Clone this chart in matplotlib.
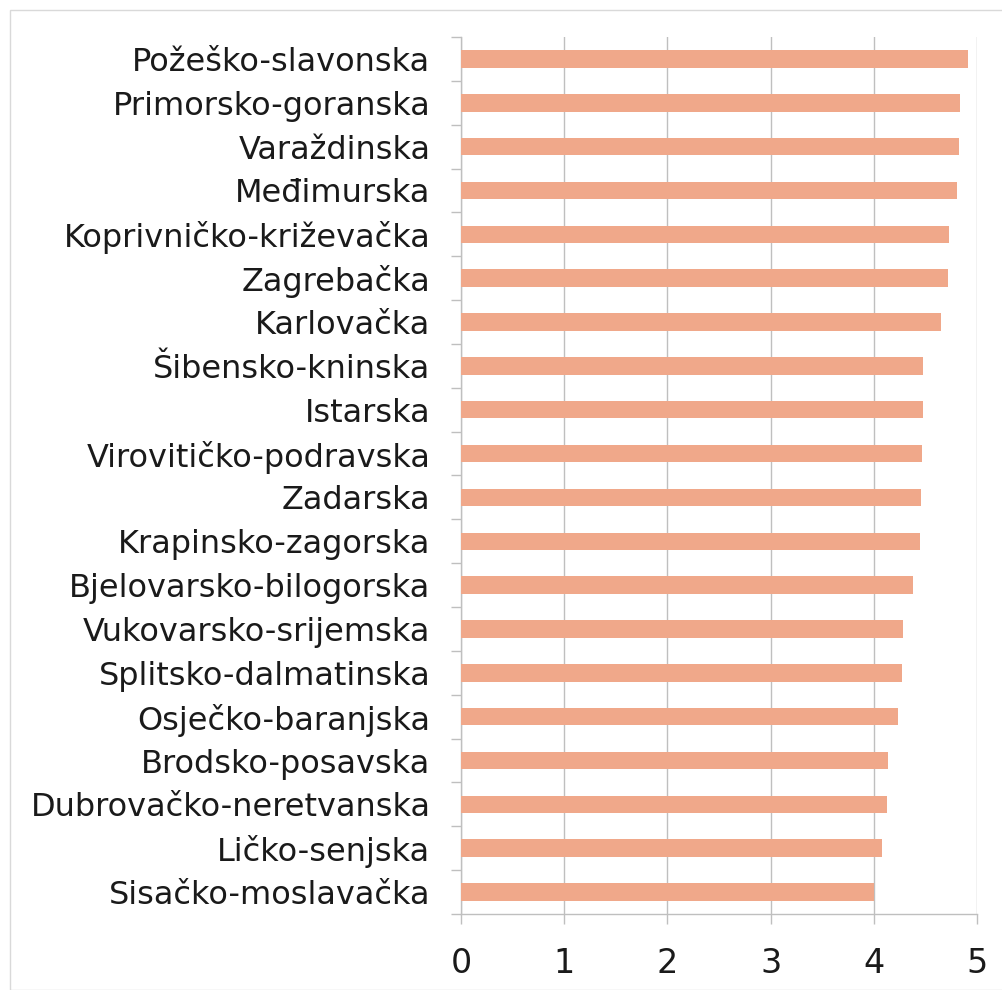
import numpy as np
import matplotlib
matplotlib.use('Agg')
from matplotlib import pyplot as plt
from matplotlib.patches import Rectangle

# counties, bottom to top as drawn
counties = ['Sisačko-moslavačka', 'Ličko-senjska', 'Dubrovačko-neretvanska',
            'Brodsko-posavska', 'Osječko-baranjska', 'Splitsko-dalmatinska',
            'Vukovarsko-srijemska', 'Bjelovarsko-bilogorska', 'Krapinsko-zagorska',
            'Zadarska', 'Virovitičko-podravska', 'Istarska', 'Šibensko-kninska',
            'Karlovačka', 'Zagrebačka', 'Koprivničko-križevačka', 'Međimurska',
            'Varaždinska', 'Primorsko-goranska', 'Požeško-slavonska']
values = [4.00, 4.08, 4.13, 4.14, 4.23, 4.27, 4.28, 4.38, 4.45, 4.46,
          4.47, 4.48, 4.48, 4.65, 4.72, 4.73, 4.81, 4.83, 4.84, 4.91]
xticks = [0, 1, 2, 3, 4, 5]

plt.rcParams['font.family'] = ['DejaVu Sans']
grey = '#bfbfbf'
txt = '#1a1a1a'

fig = plt.figure(figsize=(10.03, 9.9), dpi=100)
ax = fig.add_axes([461/1003, 1-914/990, (977-461)/1003, (914-37)/990])

y = np.arange(len(counties))
ax.barh(y, values, height=0.4, color='#f0a88a', zorder=3)

ax.set_xlim(0, 5)
ax.set_ylim(-0.5, len(counties)-0.5)
ax.set_xticks(xticks)
ax.set_xticklabels([str(t) for t in xticks], fontsize=24, color=txt)
ax.set_yticks(y)
ax.set_yticklabels(counties, fontsize=23, color=txt)
ax.set_yticks(np.arange(-0.5, len(counties), 1), minor=True)
ax.tick_params(axis='y', which='major', length=0, pad=22)
ax.tick_params(axis='y', which='minor', length=7, color=grey, width=1)
ax.tick_params(axis='x', which='major', length=7, color=grey, width=1, pad=17)
ax.xaxis.grid(True, color=grey, linewidth=1, zorder=0)

for s in ['top', 'right']:
    ax.spines[s].set_visible(False)
for s in ['left', 'bottom']:
    ax.spines[s].set_color(grey)
    ax.spines[s].set_linewidth(1)

fig.patches.append(Rectangle((10/1003, 0), 1, 1-10/990, transform=fig.transFigure,
                             fill=False, edgecolor='#d9d9d9', linewidth=1))

plt.savefig('out.png', dpi=100)
